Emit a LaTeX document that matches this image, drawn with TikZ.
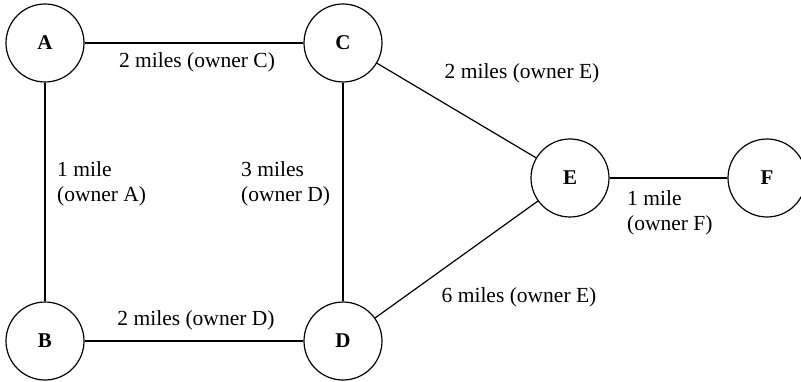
\documentclass[tikz,border=0pt]{standalone}
\usepackage{fontspec}
\setmainfont{Liberation Serif}
\begin{document}
\begin{tikzpicture}[x=1pt,y=-1pt,
  vertex/.style={circle,draw,line width=1.2pt,minimum size=78pt,inner sep=0pt,font=\fontsize{21}{25}\selectfont\bfseries},
  edge/.style={line width=1.2pt},
  lbl/.style={font=\fontsize{21.5}{25.5}\selectfont,inner sep=0pt,align=left}]
\useasboundingbox (0,0) rectangle (801,382);
\node[vertex] (A) at (45,43) {A};
\node[vertex] (C) at (343,43) {C};
\node[vertex] (B) at (45,341) {B};
\node[vertex] (D) at (343,341) {D};
\node[vertex] (E) at (570,178) {E};
\node[vertex] (F) at (767,178) {F};
\draw[edge] (A) -- (C);
\draw[edge] (A) -- (B);
\draw[edge] (C) -- (D);
\draw[edge] (B) -- (D);
\draw[edge] (C) -- (E);
\draw[edge] (D) -- (E);
\draw[edge] (E) -- (F);
\node[lbl] (lac) at (197,62) {2 miles (owner C)};
\node[lbl,anchor=west] (lab) at (57,184) {1 mile\\(owner A)};
\node[lbl,anchor=west] (lcd) at (241,184) {3 miles\\(owner D)};
\node[lbl] (lce) at (522,73) {2 miles (owner E)};
\node[lbl,anchor=west] (lef) at (627,213) {1 mile\\(owner F)};
\node[lbl] (lde) at (519,297) {6 miles (owner E)};
\node[lbl] (lbd) at (196,320) {2 miles (owner D)};
\end{tikzpicture}
\end{document}
